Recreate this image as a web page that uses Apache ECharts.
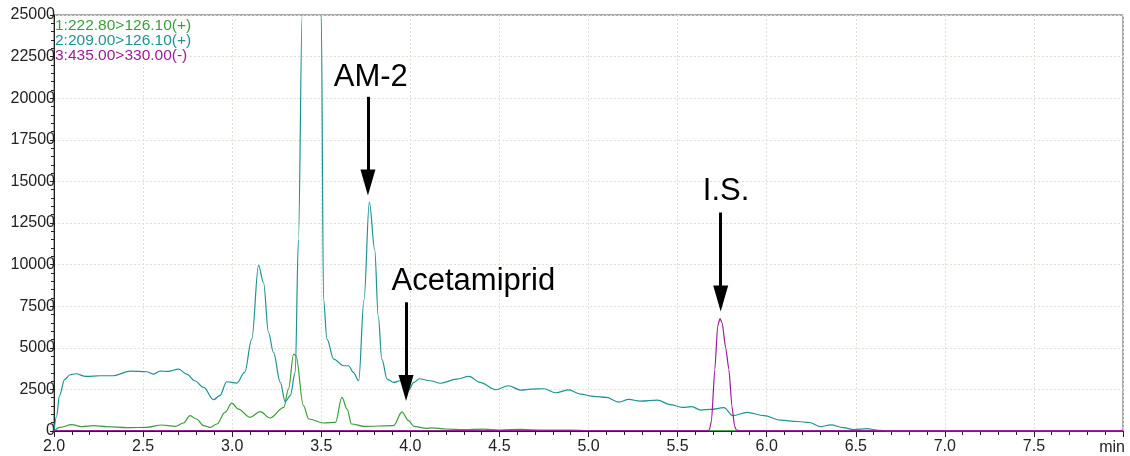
<!DOCTYPE html>
<html>
<head>
<meta charset="utf-8">
<script src="https://cdn.jsdelivr.net/npm/echarts@6/dist/echarts.min.js"></script>
<style>
  html, body { margin: 0; padding: 0; background: #fff; }
  #chart { width: 1130px; height: 456px; }
</style>
</head>
<body>
<div id="chart"></div>
<script>
// MRM transition names (legend lines, top-left of the plot)
const traceNames = ['1:222.80>126.10(+)', '2:209.00>126.10(+)', '3:435.00>330.00(-)'];
const traceColors = ['#3a9e3a', '#1f9393', '#9c1c9c'];

// Trace 1: 222.80>126.10 — [retention time (min), intensity]
const trace1 = [
  [2.0, 0], [2.034, 220], [2.10, 380], [2.155, 260], [2.22, 320], [2.296, 260],
  [2.41, 200], [2.52, 220], [2.605, 360], [2.68, 280], [2.726, 480], [2.764, 920],
  [2.80, 720], [2.84, 320], [2.876, 220], [2.914, 420], [2.96, 1120], [2.998, 1680],
  [3.035, 1320], [3.10, 820], [3.157, 1160], [3.213, 780], [3.29, 1420], [3.316, 2520],
  [3.345, 4620], [3.358, 4520], [3.40, 1520], [3.43, 720], [3.513, 480], [3.58, 520],
  [3.616, 2020], [3.645, 1320], [3.67, 420], [3.74, 280], [3.906, 320], [3.953, 1150],
  [3.99, 620], [4.02, 280], [4.09, 160], [4.12, 190], [4.2, 120], [4.3, 80],
  [4.41, 110], [4.5, 60], [4.62, 100], [4.75, 50], [4.9, 60], [5.0, 20],
  [5.5, 20], [6.0, 10], [7.0, 10], [8.0, 10]
];

// Trace 2: 209.00>126.10
const trace2 = [
  [2.00, 0], [2.015, 900], [2.03, 2100], [2.06, 3100], [2.09, 3380], [2.12, 3440],
  [2.18, 3280], [2.26, 3320], [2.33, 3320], [2.43, 3600], [2.52, 3560], [2.56, 3420],
  [2.595, 3600], [2.64, 3580], [2.70, 3720], [2.745, 3420], [2.79, 3020], [2.84, 2620],
  [2.895, 1880], [2.93, 2120], [2.97, 2960], [3.026, 2880], [3.07, 3520], [3.11, 5520],
  [3.148, 9950], [3.176, 8910], [3.204, 5920], [3.232, 4720], [3.27, 2920], [3.298, 1760],
  [3.326, 2120], [3.354, 3520], [3.372, 11500], [3.393, 25000], [3.42, 42000], [3.45, 46000],
  [3.48, 40000], [3.50, 25000], [3.513, 7900], [3.532, 5520], [3.57, 4320], [3.625, 3920],
  [3.653, 3920], [3.68, 3520], [3.71, 3020], [3.74, 7900], [3.77, 13750], [3.80, 10900],
  [3.82, 6900], [3.84, 4320], [3.87, 3120], [3.906, 2920], [3.944, 3020], [3.99, 2460],
  [4.02, 2920], [4.05, 3140], [4.11, 3020], [4.17, 2870], [4.26, 3120], [4.33, 3280],
  [4.39, 2920], [4.48, 2480], [4.55, 2720], [4.62, 2460], [4.68, 2520], [4.75, 2540],
  [4.815, 2300], [4.89, 2470], [4.955, 2220], [5.03, 2080], [5.10, 2020], [5.17, 1740],
  [5.226, 1900], [5.29, 1800], [5.386, 1860], [5.46, 1580], [5.526, 1420], [5.58, 1460],
  [5.63, 1260], [5.685, 1300], [5.76, 1400], [5.81, 920], [5.89, 1120], [5.985, 920],
  [6.08, 650], [6.17, 570], [6.24, 510], [6.30, 265], [6.36, 370], [6.43, 200],
  [6.49, 80], [6.56, 140], [6.63, 40], [6.69, 0], [8.0, 0]
];

// Trace 3: 435.00>330.00 (internal standard)
const trace3 = [
  [2.0, 30], [5.66, 30], [5.678, 60], [5.69, 600], [5.709, 3700], [5.725, 6300],
  [5.738, 6750], [5.75, 6500], [5.77, 5000], [5.788, 3700], [5.805, 1500], [5.82, 300],
  [5.83, 50], [5.85, 30], [8.0, 30]
];

// Peak annotations: arrow at time x from intensity `from` down to `to`
// (`to` is the centre of the arrowhead), caption centred at (tx, ty)
const peakNames = ['AM-2', 'Acetamiprid', 'I.S.'];
const arrowX    = [3.762, 3.976, 5.742];
const arrowFrom = [20084, 7734, 13129];
const arrowTo   = [14930, 2580, 7970];
const captionX  = [3.778, 4.354, 5.772];
const captionY  = [21223, 8993, 14388];

const FONT = '"Liberation Sans", Arial, Helvetica, sans-serif';

const chart = echarts.init(document.getElementById('chart'), null, { renderer: 'canvas' });

function lineSeries(name, data, color, extra) {
  return Object.assign({
    name: name,
    type: 'line',
    data: data,
    showSymbol: false,
    smooth: 0.35,
    smoothMonotone: 'x',
    clip: true,
    silent: true,
    lineStyle: { color: color, width: 1.2 },
    itemStyle: { color: color }
  }, extra || {});
}

const gridLine = { show: true, lineStyle: { color: '#dce3d6', type: [2, 2], width: 1 } };

const option = {
  animation: false,
  backgroundColor: '#fff',
  grid: {
    left: 54, right: 7, top: 15, bottom: 24,
    show: true, borderColor: '#555', borderWidth: 1, backgroundColor: '#fff'
  },
  xAxis: {
    type: 'value', min: 2, max: 8, interval: 0.5,
    name: 'min', nameLocation: 'end', nameGap: 0,
    nameTextStyle: { fontFamily: FONT, fontSize: 16, color: '#222', align: 'right', verticalAlign: 'top', padding: [9, -2, 0, 0] },
    axisLine: { lineStyle: { color: '#222', width: 1 } },
    axisTick: { show: true, length: 6, inside: false, lineStyle: { color: '#222' } },
    minorTick: { show: true, splitNumber: 5, length: 4, lineStyle: { color: '#222' } },
    axisLabel: {
      fontFamily: FONT, fontSize: 16, color: '#222', margin: 8, showMaxLabel: false,
      formatter: v => v.toFixed(1)
    },
    splitLine: gridLine
  },
  yAxis: {
    type: 'value', min: 0, max: 25000, interval: 2500,
    axisLine: { show: true, lineStyle: { color: '#222', width: 1 } },
    axisTick: { show: true, length: 4, lineStyle: { color: '#222' } },
    minorTick: { show: true, splitNumber: 5, length: 3, lineStyle: { color: '#222' } },
    axisLabel: { fontFamily: FONT, fontSize: 16, color: '#222', margin: -1, formatter: v => String(v) },
    splitLine: gridLine
  },
  series: [
    lineSeries(traceNames[0], trace1, traceColors[0]),
    lineSeries(traceNames[1], trace2, traceColors[1], {
      markLine: {
        silent: true,
        animation: false,
        symbol: 'none',
        symbolSize: 0,
        lineStyle: { color: '#000', width: 3, type: 'solid' },
        itemStyle: { color: '#000' },
        label: { show: false },
        emphasis: { disabled: true },
        data: peakNames.map((n, i) => [
          { coord: [arrowX[i], arrowFrom[i]], symbol: 'none', symbolSize: 0 },
          { coord: [arrowX[i], arrowTo[i]], symbol: 'triangle', symbolSize: [15, 26] }
        ])
      },
      markPoint: {
        silent: true,
        animation: false,
        symbol: 'circle',
        symbolSize: 1,
        itemStyle: { color: 'rgba(0,0,0,0)' },
        label: {
          show: true, position: 'inside', color: '#000',
          fontFamily: FONT, fontSize: 31,
          formatter: p => p.name
        },
        data: peakNames.map((n, i) => ({ name: n, coord: [captionX[i], captionY[i]] }))
      }
    }),
    lineSeries(traceNames[2], trace3, traceColors[2], { smooth: 0.2 })
  ],
  graphic: traceNames.map((n, i) => ({
    type: 'text',
    left: 55,
    top: 18 + i * 15,
    z: 100,
    silent: true,
    style: {
      text: n,
      fill: traceColors[i],
      font: '15.5px ' + FONT,
      backgroundColor: '#fff'
    }
  }))
};

chart.setOption(option);
</script>
</body>
</html>
